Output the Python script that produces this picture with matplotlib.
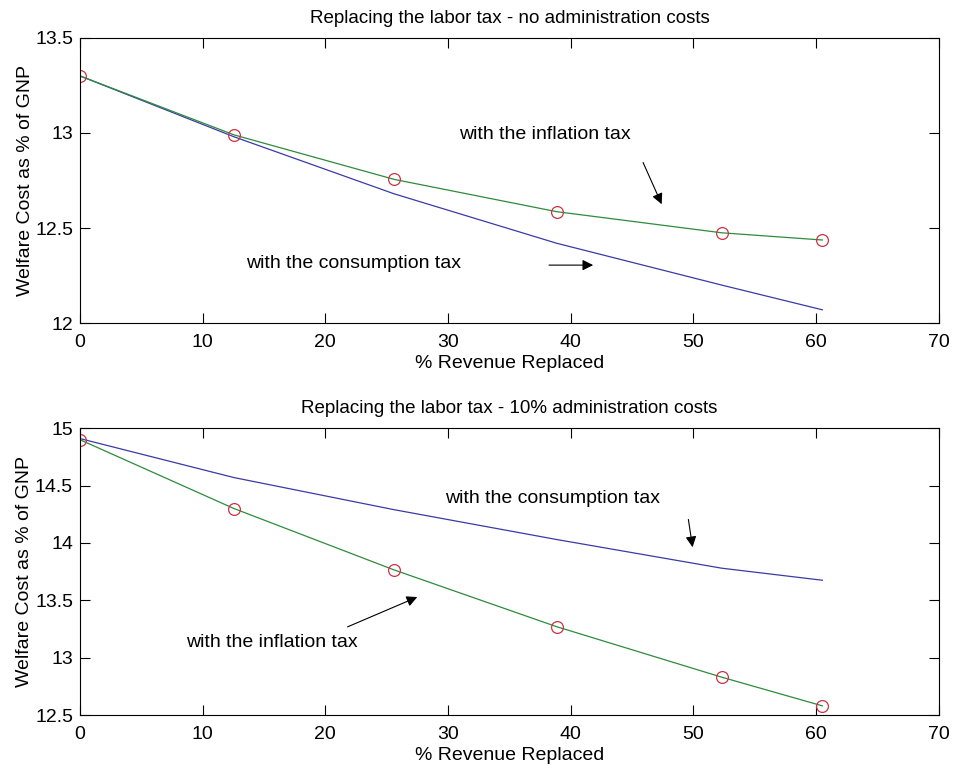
import matplotlib
matplotlib.use('Agg')
import matplotlib.pyplot as plt

plt.rcParams['font.family'] = ['Liberation Sans', 'DejaVu Sans']

# ---------------- data ----------------
revenue = [0, 12.55, 25.6, 38.85, 52.3, 60.5]   # % revenue replaced

# top panel: no administration costs
infl_noadm = [13.30, 12.99, 12.756, 12.586, 12.475, 12.437]
cons_noadm = [13.30, 12.98, 12.68, 12.42, 12.20, 12.07]

# bottom panel: 10% administration costs
infl_adm = [14.90, 14.30, 13.765, 13.27, 12.83, 12.58]
cons_adm = [14.91, 14.57, 14.29, 14.03, 13.78, 13.675]

titles = ['Replacing the labor tax - no administration costs',
          'Replacing the labor tax - 10% administration costs']
xticks = [0, 10, 20, 30, 40, 50, 60, 70]
yticks_top = [12, 12.5, 13, 13.5]
yticks_bot = [12.5, 13, 13.5, 14, 14.5, 15]

green = '#2e8b3c'
blue = '#3a3aa8'
red = '#cc3344'
fs = 14

fig = plt.figure(figsize=(9.61, 7.73), dpi=100)
ax1 = fig.add_axes([0.0832, 0.582, 0.8938, 0.369])
ax2 = fig.add_axes([0.0832, 0.075, 0.8938, 0.371])

def style(ax, yt, ylim, title):
    ax.set_xlim(0, 70)
    ax.set_ylim(*ylim)
    ax.set_xticks(xticks)
    ax.set_yticks(yt)
    ax.set_yticklabels([('%g' % v) for v in yt])
    ax.tick_params(direction='in', length=7, width=0.8, top=True, right=True,
                   labelsize=fs, pad=5)
    ax.tick_params(axis='x', pad=8)
    for s in ax.spines.values():
        s.set_linewidth(0.8)
    ax.set_title(title, fontsize=fs - 0.5, pad=11)
    ax.set_xlabel('% Revenue Replaced', fontsize=fs, labelpad=3)
    ax.set_ylabel('Welfare Cost as % of GNP', fontsize=fs, labelpad=1)

def arrow(ax, start, end):
    ax.annotate('', xy=end, xytext=start,
                arrowprops=dict(arrowstyle='-|>', color='black', lw=0.8,
                                mutation_scale=16))

# top panel
ax1.plot(revenue, cons_noadm, color=blue, lw=0.9)
ax1.plot(revenue, infl_noadm, color=green, lw=0.9)
ax1.plot(revenue, infl_noadm, 'o', mfc='none', mec=red, ms=8.5, mew=0.9)
style(ax1, yticks_top, (12, 13.5), titles[0])
ax1.text(37.9, 12.99, 'with the inflation tax', fontsize=fs, ha='center', va='center')
arrow(ax1, (45.8, 12.858), (47.5, 12.612))
ax1.text(22.3, 12.316, 'with the consumption tax', fontsize=fs, ha='center', va='center')
arrow(ax1, (38.0, 12.305), (42.05, 12.305))

# bottom panel
ax2.plot(revenue, cons_adm, color=blue, lw=0.9)
ax2.plot(revenue, infl_adm, color=green, lw=0.9)
ax2.plot(revenue, infl_adm, 'o', mfc='none', mec=red, ms=8.5, mew=0.9)
style(ax2, yticks_bot, (12.5, 15), titles[1])
ax2.text(38.5, 14.39, 'with the consumption tax', fontsize=fs, ha='center', va='center')
arrow(ax2, (49.55, 14.229), (49.96, 13.939))
ax2.text(15.6, 13.128, 'with the inflation tax', fontsize=fs, ha='center', va='center')
arrow(ax2, (21.6, 13.259), (27.7, 13.538))

fig.savefig('out.png', dpi=100)
